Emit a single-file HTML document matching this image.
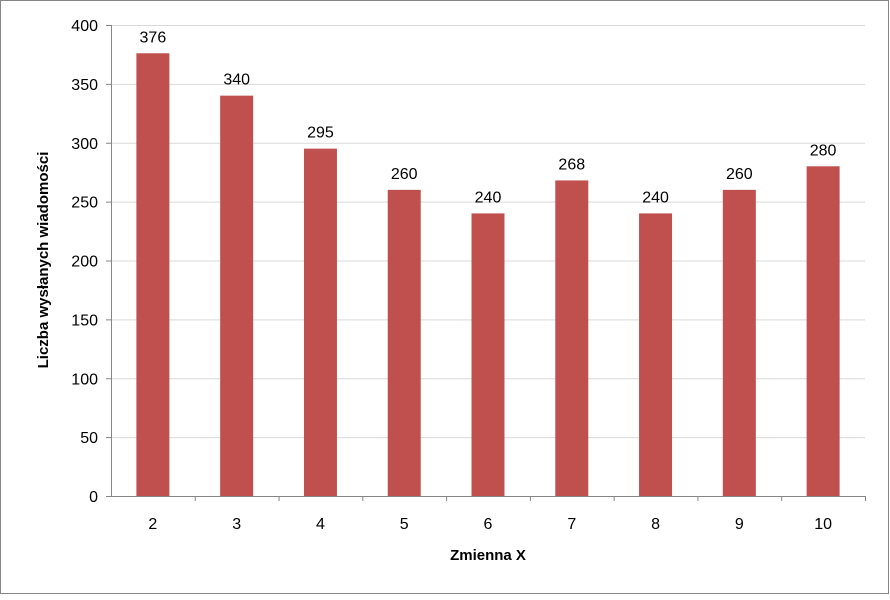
<!DOCTYPE html>
<html><head><meta charset="utf-8">
<style>
body{margin:0;background:#fff;}
svg text{font-family:"Liberation Sans",sans-serif;}
</style></head>
<body>
<svg id="chart" width="890" height="595" xmlns="http://www.w3.org/2000/svg">
<rect x="0.5" y="0.5" width="888" height="593" fill="#fff" stroke="#868686"/>
<g id="grid"></g>
<g id="bars"></g>
<g id="labels"></g>
<text x="488" y="560" font-size="15" font-weight="bold" text-anchor="middle">Zmienna X</text>
<text transform="translate(48,260) rotate(-90)" font-size="15" font-weight="bold" text-anchor="middle">Liczba wysłanych wiadomości</text>
</svg>
<script>
const categories = ["2","3","4","5","6","7","8","9","10"];
const values = [376,340,295,260,240,268,240,260,280];
const yTicks = [0,50,100,150,200,250,300,350,400];
const NS="http://www.w3.org/2000/svg";
const L=111,R=865,T=25,B=496,yMax=400;
const y=v=>B-(v/yMax)*(B-T);
const bw=(R-L)/categories.length;
const x=i=>L+bw*(i+0.5);
function mk(t,a,p){const e=document.createElementNS(NS,t);for(const k in a)e.setAttribute(k,a[k]);p.appendChild(e);return e;}
const grid=document.getElementById('grid'),bars=document.getElementById('bars'),labels=document.getElementById('labels');
yTicks.forEach(v=>{
  const l=mk('line',{x1:L,x2:R,y1:y(v)+0.5,y2:y(v)+0.5,stroke:v===0?'#868686':'#d9d9d9'},grid);
  
  
  mk('line',{x1:L-5,x2:L,y1:y(v)+0.5,y2:y(v)+0.5,stroke:'#868686'},grid);
  const t=mk('text',{x:L-13,y:y(v)+6,'font-size':16,'text-anchor':'end'},labels);
  t.textContent=v;
  
  
});
mk('line',{x1:L+0.5,x2:L+0.5,y1:T,y2:B,stroke:'#868686'},grid);
categories.forEach((c,i)=>{
  mk('line',{x1:L+bw*(i+1)+0.5,x2:L+bw*(i+1)+0.5,y1:B,y2:B+5,stroke:'#868686'},grid);
  const r=mk('rect',{x:x(i)-16.5,y:y(values[i]),width:33,height:B-y(values[i]),fill:'#c0504d'},bars);
  
  
  const vl=mk('text',{x:x(i),y:y(values[i])-11,'font-size':16,'text-anchor':'middle'},labels);
  vl.textContent=values[i];
  
  
  const xl=mk('text',{x:x(i),y:B+33,'font-size':16,'text-anchor':'middle'},labels);
  xl.textContent=c;
  
  
});
</script>
</body></html>
